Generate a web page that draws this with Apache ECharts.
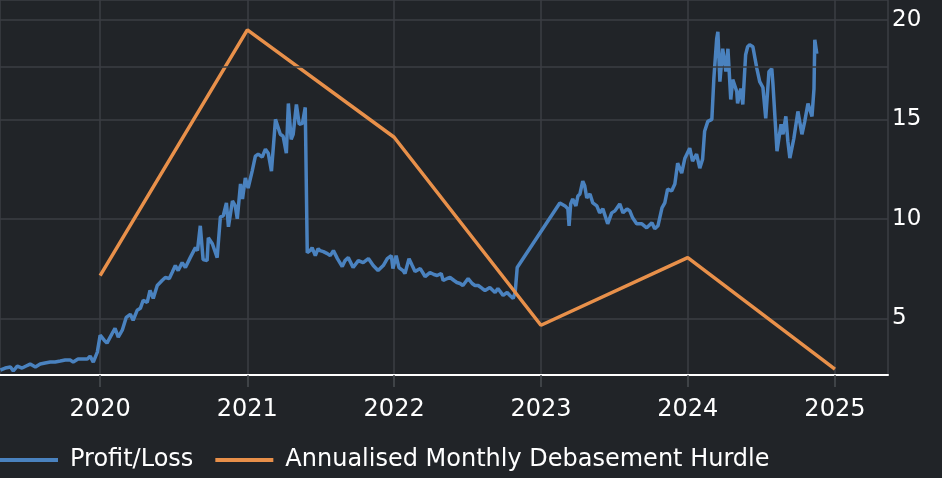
<!DOCTYPE html>
<html><head><meta charset="utf-8">
<script src="https://cdn.jsdelivr.net/npm/echarts@6/dist/echarts.min.js"></script>
<style>html,body{margin:0;padding:0;background:#212428;}#c{width:942px;height:478px;}</style>
</head><body><div id="c"></div>
<script>
const plDates = [
'2019-04-28','2019-05-10','2019-05-23','2019-05-30','2019-06-09','2019-06-21','2019-07-01','2019-07-11','2019-07-24','2019-08-05','2019-08-17','2019-08-30','2019-09-11','2019-09-24','2019-10-06','2019-10-19','2019-10-26','2019-11-07','2019-11-20','2019-11-30','2019-12-07','2019-12-15','2019-12-25',
'2020-01-01','2020-01-11','2020-01-18','2020-01-26','2020-02-07','2020-02-15','2020-02-25','2020-03-06','2020-03-16','2020-03-23','2020-04-02','2020-04-10','2020-04-17','2020-04-27','2020-05-04','2020-05-12','2020-05-22','2020-06-03','2020-06-11','2020-06-21','2020-06-28','2020-07-06','2020-07-13','2020-07-23','2020-07-31','2020-08-12','2020-08-25','2020-08-30','2020-09-06','2020-09-13','2020-09-23','2020-09-26','2020-10-06','2020-10-18','2020-10-26','2020-11-02','2020-11-10','2020-11-15','2020-11-25','2020-12-02','2020-12-07','2020-12-15','2020-12-20','2020-12-27',
'2021-01-03','2021-01-13','2021-01-21','2021-01-28','2021-02-07','2021-02-15','2021-02-22','2021-03-02','2021-03-12','2021-03-16','2021-03-24','2021-03-31','2021-04-08','2021-04-13','2021-04-20','2021-04-25','2021-05-03','2021-05-10','2021-05-18','2021-05-25','2021-05-30','2021-06-06','2021-06-11','2021-06-19','2021-06-26','2021-07-01','2021-07-09','2021-07-19','2021-07-26','2021-08-03','2021-08-13','2021-08-25','2021-09-01','2021-09-09','2021-09-21','2021-10-04','2021-10-16','2021-10-29','2021-11-10','2021-11-22','2021-12-05','2021-12-15','2021-12-25','2021-12-29',
'2022-01-06','2022-01-13','2022-01-23','2022-01-28','2022-02-07','2022-02-15','2022-02-22','2022-03-07','2022-03-19','2022-03-31','2022-04-10','2022-04-18','2022-04-28','2022-05-03','2022-05-13','2022-05-20','2022-05-30','2022-06-06','2022-06-14','2022-06-21','2022-07-04','2022-07-14','2022-07-21','2022-07-29','2022-08-08','2022-08-15','2022-08-27','2022-09-09','2022-09-16','2022-09-29','2022-10-09','2022-10-16','2022-10-24','2022-10-29','2022-11-03',
'2023-02-17','2023-03-02','2023-03-09','2023-03-12','2023-03-16','2023-03-21','2023-03-29','2023-04-03','2023-04-08','2023-04-15','2023-04-20','2023-04-25','2023-05-03','2023-05-10','2023-05-20','2023-05-27','2023-06-04','2023-06-16','2023-06-26','2023-07-04','2023-07-16','2023-07-24','2023-08-03','2023-08-10','2023-08-17','2023-08-27','2023-09-09','2023-09-21','2023-10-04','2023-10-11','2023-10-19','2023-10-29','2023-11-05','2023-11-12','2023-11-22','2023-11-30','2023-12-07','2023-12-17','2023-12-25',
'2024-01-06','2024-01-13','2024-01-23','2024-01-31','2024-02-07','2024-02-12','2024-02-20','2024-03-01','2024-03-06','2024-03-13','2024-03-16','2024-03-21','2024-03-28','2024-04-05','2024-04-10','2024-04-17','2024-04-22','2024-05-02','2024-05-04','2024-05-12','2024-05-17','2024-05-24','2024-05-29','2024-06-03','2024-06-11','2024-06-21','2024-06-28','2024-07-06','2024-07-13','2024-07-21','2024-07-28','2024-07-31','2024-08-10','2024-08-20','2024-08-25','2024-09-01','2024-09-06','2024-09-11','2024-09-21','2024-10-01','2024-10-11','2024-10-18','2024-10-26','2024-11-05','2024-11-10','2024-11-12','2024-11-17'
];
const plValues = [
2.40,2.50,2.55,2.35,2.60,2.50,2.60,2.70,2.55,2.70,2.75,2.80,2.80,2.85,2.90,2.90,2.80,2.95,2.95,2.95,3.10,2.80,3.30,
4.15,3.90,3.75,4.05,4.50,4.05,4.40,5.05,5.20,4.90,5.40,5.50,5.90,5.80,6.40,6.00,6.65,6.90,7.05,7.00,7.30,7.65,7.40,7.80,7.55,8.05,8.55,8.40,9.65,7.95,7.90,9.05,8.75,8.05,10.10,10.15,10.80,9.60,10.90,10.65,10.00,11.75,11.00,12.05,
11.55,12.40,13.15,13.25,13.10,13.50,13.30,12.40,15.00,15.05,14.25,14.15,13.30,15.80,14.00,14.25,15.75,14.75,14.80,15.60,8.30,8.40,8.55,8.15,8.50,8.40,8.35,8.25,8.15,8.40,8.00,7.60,7.90,8.05,7.55,7.90,7.80,8.00,7.65,7.40,7.65,8.00,8.15,7.50,
8.15,7.55,7.40,7.25,8.00,7.65,7.35,7.50,7.10,7.30,7.20,7.15,7.25,6.90,7.00,7.05,6.90,6.80,6.75,6.65,7.00,6.75,6.65,6.65,6.50,6.40,6.55,6.30,6.50,6.15,6.30,6.15,6.00,6.30,7.55,
10.80,10.65,10.50,9.65,10.75,11.00,10.65,11.15,11.25,11.90,11.65,11.05,11.25,10.80,10.65,10.30,10.50,9.75,10.30,10.40,10.75,10.30,10.50,10.40,10.05,9.75,9.75,9.55,9.80,9.50,9.65,10.55,10.80,11.50,11.40,11.75,12.80,12.30,13.05,
13.55,12.90,13.25,12.55,13.00,14.40,14.90,15.00,17.05,19.05,19.40,16.90,18.55,17.40,18.55,16.00,17.00,16.40,15.80,16.55,15.75,18.25,18.65,18.75,18.65,17.55,16.90,16.60,15.05,17.40,17.55,16.75,13.40,14.75,14.25,15.15,13.90,13.05,14.05,15.40,14.25,14.90,15.80,15.15,16.55,19.00,18.30
];
const hurdleDates = ['2020-01-01','2021-01-01','2022-01-01','2023-01-01','2024-01-01','2025-01-01'];
const hurdleValues = [7.15, 19.5, 14.1, 4.65, 8.05, 2.45];
const seriesNames = ['Profit/Loss', 'Annualised Monthly Debasement Hurdle'];

const gridColor = '#3b3e43';
const chart = echarts.init(document.getElementById('c'));
chart.setOption({
  backgroundColor: '#212428',
  animation: false,
  textStyle: { fontFamily: 'DejaVu Sans' },
  grid: { left: 0, right: 54, top: -2, bottom: 103 },
  xAxis: {
    type: 'time', min: '2019-04-27', max: '2025-05-13',
    minInterval: 365 * 864e5, maxInterval: 366 * 864e5,
    axisLine: { lineStyle: { color: '#ffffff', width: 2 } },
    axisTick: { show: true, length: 12, lineStyle: { color: '#4a4d52', width: 1.5 } },
    axisLabel: { color: '#ffffff', fontSize: 24, margin: 23, formatter: '{yyyy}' },
    splitLine: { show: true, lineStyle: { color: gridColor, width: 1.5 } }
  },
  yAxis: {
    type: 'value', position: 'right', min: 2.15, max: 21.0, splitNumber: 4,
    axisLine: { show: false }, axisTick: { show: false },
    axisLabel: { color: '#ffffff', fontSize: 23, margin: 4, showMinLabel: false, showMaxLabel: false },
    splitLine: { lineStyle: { color: gridColor, width: 1.5 } }
  },
  legend: {
    data: seriesNames, left: 0, top: 448, padding: 0, icon: 'rect', itemWidth: 58, itemHeight: 4, itemGap: 22,
    textStyle: { color: '#ffffff', fontSize: 24, padding: [0, 0, 0, 7] }
  },
  series: [
    { type: 'line', data: [], silent: true, z: 1,
      markLine: { silent: true, symbol: 'none', label: { show: false },
        lineStyle: { color: gridColor, width: 1.5, type: 'solid' }, data: [{ yAxis: 17.65 }] } },
    { name: seriesNames[0], type: 'line', z: 2, showSymbol: false,
      data: plDates.map((d, i) => [d, plValues[i]]),
      lineStyle: { color: '#4a82bf', width: 3.5 }, itemStyle: { color: '#4a82bf' } },
    { name: seriesNames[1], type: 'line', z: 3, showSymbol: false,
      data: hurdleDates.map((d, i) => [d, hurdleValues[i]]),
      lineStyle: { color: '#e8904a', width: 3.5 }, itemStyle: { color: '#e8904a' } }
  ]
});
</script></body></html>
